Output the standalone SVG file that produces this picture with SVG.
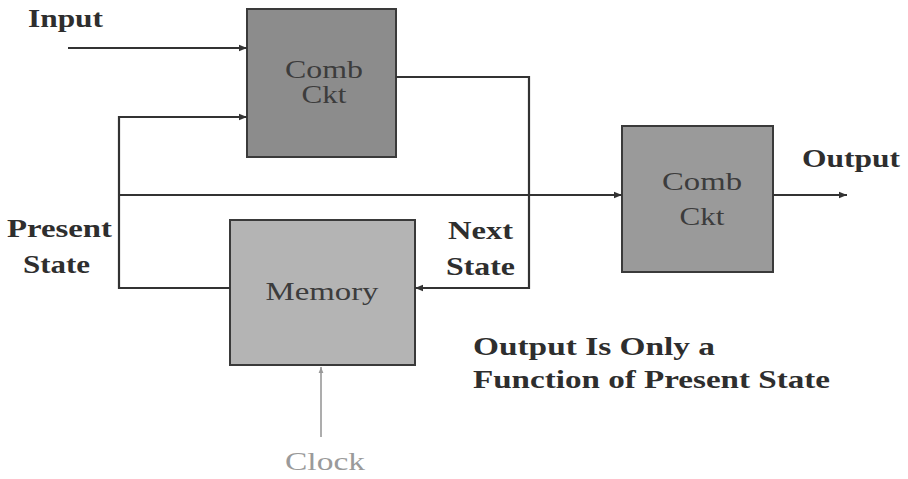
<svg xmlns="http://www.w3.org/2000/svg" width="908" height="479" viewBox="0 0 908 479">
<style>
.box{stroke:#3a3a3a;stroke-width:2}
.wire{fill:none;stroke:#333;stroke-width:2.2}
.lbl{font-family:"Liberation Serif","Times New Roman",serif;font-weight:bold;font-size:25px;fill:#2e2e2e}
.in{font-family:"Liberation Serif","Times New Roman",serif;font-size:25px;fill:#3c3c3c;text-anchor:middle}
</style>
<defs>
<marker id="ah" viewBox="0 0 10 10" refX="10" refY="5" markerWidth="14" markerHeight="8" markerUnits="userSpaceOnUse" orient="auto">
<path d="M0,1 L10,5 L0,9 Z" fill="#333"/>
</marker>
<marker id="ahc" viewBox="0 0 10 10" refX="10" refY="5" markerWidth="10" markerHeight="6" markerUnits="userSpaceOnUse" orient="auto">
<path d="M0,1 L10,5 L0,9 Z" fill="#999"/>
</marker>
</defs>
<rect width="908" height="479" fill="#ffffff"/>
<g id="combTop">
<rect class="box" x="247" y="9" width="149" height="148" fill="#8c8c8c"/>
<text class="in" x="324" y="78" textLength="78" lengthAdjust="spacingAndGlyphs">Comb</text>
<text class="in" x="324" y="103" textLength="45" lengthAdjust="spacingAndGlyphs">Ckt</text>
</g>
<g id="combRight">
<rect class="box" x="622" y="126" width="151" height="146" fill="#9a9a9a"/>
<text class="in" x="702" y="190" textLength="80" lengthAdjust="spacingAndGlyphs">Comb</text>
<text class="in" x="702" y="225" textLength="45" lengthAdjust="spacingAndGlyphs">Ckt</text>
</g>
<g id="memory">
<rect class="box" x="230" y="220" width="185" height="145" fill="#b4b4b4"/>
<text class="in" x="322" y="300" textLength="113" lengthAdjust="spacingAndGlyphs">Memory</text>
</g>
<g id="connectors">
<line class="wire" x1="68" y1="48" x2="247" y2="48" marker-end="url(#ah)"/>
<polyline class="wire" points="230,288 119,288 119,117 247,117" marker-end="url(#ah)"/>
<line class="wire" x1="119" y1="195" x2="622" y2="195" marker-end="url(#ah)"/>
<polyline class="wire" points="396,77 529,77 529,288 415,288" marker-end="url(#ah)"/>
<line class="wire" x1="773" y1="195" x2="847" y2="195" marker-end="url(#ah)"/>
<line x1="321" y1="437" x2="321" y2="367" stroke="#999" stroke-width="1.6" marker-end="url(#ahc)"/>
</g>
<g id="labels">
<text class="lbl" x="28" y="27" textLength="75" lengthAdjust="spacingAndGlyphs">Input</text>
<text class="lbl" x="802" y="167" textLength="98" lengthAdjust="spacingAndGlyphs">Output</text>
<text class="lbl" x="7" y="237" textLength="105" lengthAdjust="spacingAndGlyphs">Present</text>
<text class="lbl" x="23" y="273" textLength="67" lengthAdjust="spacingAndGlyphs">State</text>
<text class="lbl" x="448" y="239" textLength="65" lengthAdjust="spacingAndGlyphs">Next</text>
<text class="lbl" x="446" y="275" textLength="69" lengthAdjust="spacingAndGlyphs">State</text>
<text class="lbl" x="473" y="355" textLength="242" lengthAdjust="spacingAndGlyphs">Output Is Only a</text>
<text class="lbl" x="473" y="388" textLength="357" lengthAdjust="spacingAndGlyphs">Function of Present State</text>
<text x="325" y="470" font-family="Liberation Serif,Times New Roman,serif" font-size="25" fill="#9a9a9a" text-anchor="middle" textLength="80" lengthAdjust="spacingAndGlyphs">Clock</text>
</g>
</svg>
